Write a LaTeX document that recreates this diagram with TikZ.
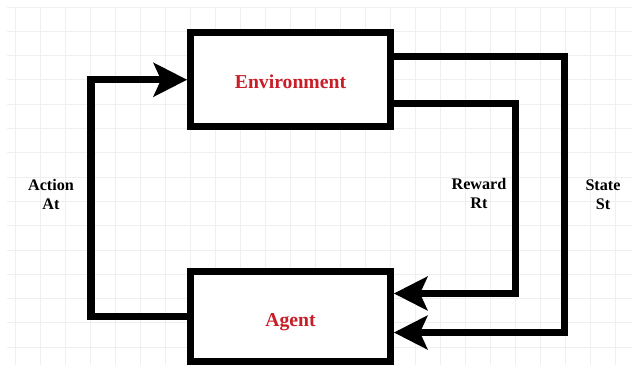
\documentclass[tikz,border=0pt]{standalone}
\usepackage{fontspec}
\setmainfont{Liberation Serif}
\usetikzlibrary{arrows.meta}
\definecolor{boxred}{RGB}{200,30,40}
\definecolor{gridgray}{RGB}{239,239,239}

\begin{document}
\begin{tikzpicture}[x=0.25mm, y=0.25mm,
	block/.style={draw, fill=white, line width=1.75mm, minimum width=50mm, inner sep=0pt,
		text=boxred, font=\bfseries\fontsize{14}{16}\selectfont},
	flow/.style={line width=1.75mm, -{Stealth[length=8.5mm, width=8.7mm, inset=2mm, line width=0pt]}},
	sidetext/.style={font=\bfseries\fontsize{11.5}{13.5}\selectfont, align=center},
	gridline/.style={draw=gridgray, line width=0.25mm}]
	\fill[white] (0,0) rectangle (632,365);
	\useasboundingbox (0,0) rectangle (632,365);
	% grid
	\foreach \gx in {15,40,...,615}
		\draw[gridline] (\gx,0) -- (\gx,358);
	\foreach \gy in {0,...,14}
		\draw[gridline] (7,358-24.3*\gy) -- (632,358-24.3*\gy);
	% boxes
	\node[block, minimum height=23.6mm, text height=4.5mm, text depth=0mm] (env) at (290.5,285.25) {Environment};
	\node[block, minimum height=22.5mm, text height=6.3mm, text depth=1mm] (agent) at (290.5,49) {Agent};
	% loops
	\draw[flow] (agent.west) -- ++(-96,0) |- (env.west);
	\draw[flow] ([yshift=-5.94mm]env.east) -- ++(121,0) |- ([yshift=5.63mm]agent.east);
	\draw[flow] ([yshift=5.69mm]env.east) -- ++(170,0) |- ([yshift=-4.13mm]agent.east);
	% labels
	\node[sidetext] (action) at (51,171) {Action\\At};
	\node[sidetext] (reward) at (479,172) {Reward\\Rt};
	\node[sidetext] (state) at (603,170) {State\\St};
\end{tikzpicture}
\end{document}
